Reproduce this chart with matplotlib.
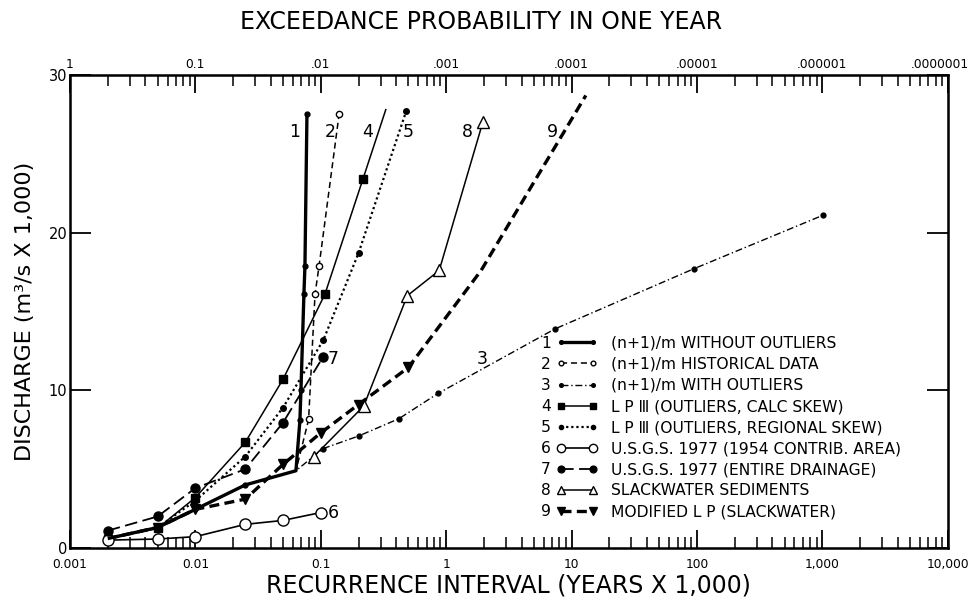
import numpy as np
import matplotlib
matplotlib.use("Agg")
import matplotlib.pyplot as plt
import matplotlib.transforms as mtransforms
from matplotlib.ticker import FixedLocator, LogLocator, NullFormatter

# recurrence interval (years x 1,000) and discharge (m3/s x 1,000)
t1 = [0.002, 0.005, 0.01, 0.025, 0.0634, 0.0682, 0.0695, 0.0734, 0.0748, 0.0776]
q1 = [0.6, 1.3, 2.45, 4.0, 4.9, 8.1, 10.0, 16.1, 17.9, 27.5]
t2 = [0.002, 0.005, 0.01, 0.025, 0.0634, 0.080, 0.090, 0.097, 0.14]
q2 = [0.6, 1.3, 2.45, 4.0, 4.9, 8.15, 16.1, 17.9, 27.5]
t3 = [0.002, 0.005, 0.01, 0.025, 0.0634, 0.104, 0.2, 0.42, 0.86, 7.4, 94, 1010]
q3 = [0.6, 1.3, 2.45, 4.0, 4.9, 6.3, 7.1, 8.2, 9.8, 13.9, 17.7, 21.1]
t4 = [0.002, 0.005, 0.01, 0.025, 0.05, 0.108, 0.217, 0.33]
q4 = [0.6, 1.25, 3.2, 6.7, 10.7, 16.1, 23.4, 27.8]
t5 = [0.002, 0.005, 0.01, 0.025, 0.05, 0.105, 0.2, 0.48]
q5 = [0.6, 1.3, 3.0, 5.8, 8.9, 13.2, 18.7, 27.7]
t6 = [0.002, 0.005, 0.01, 0.025, 0.05, 0.1]
q6 = [0.5, 0.57, 0.72, 1.5, 1.75, 2.25]
t7 = [0.002, 0.005, 0.01, 0.025, 0.05, 0.104]
q7 = [1.1, 2.0, 3.8, 5.0, 7.95, 12.1]
t8 = [0.088, 0.22, 0.49, 0.88, 1.96]
q8 = [5.8, 9.0, 16.0, 17.6, 27.0]
t9 = [0.002, 0.005, 0.01, 0.025, 0.05, 0.1, 0.2, 0.5, 1.9, 13.0]
q9 = [0.6, 1.3, 2.45, 3.1, 5.3, 7.3, 9.1, 11.45, 17.6, 28.7]

names = ["(n+1)/m WITHOUT OUTLIERS", "(n+1)/m HISTORICAL DATA",
         "(n+1)/m WITH OUTLIERS", "L P \u2162 (OUTLIERS, CALC SKEW)",
         "L P \u2162 (OUTLIERS, REGIONAL SKEW)", "U.S.G.S. 1977 (1954 CONTRIB. AREA)",
         "U.S.G.S. 1977 (ENTIRE DRAINAGE)", "SLACKWATER SEDIMENTS",
         "MODIFIED L P (SLACKWATER)"]

# curve number labels: (text, t, q)
curve_labels = [("1", 0.062, 26.4), ("2", 0.118, 26.4), ("4", 0.238, 26.4),
                ("5", 0.495, 26.4), ("8", 1.47, 26.4), ("9", 7.1, 26.4),
                ("3", 1.93, 12.0), ("7", 0.125, 12.0), ("6", 0.125, 2.25)]

bottom_ticks = [0.001, 0.01, 0.1, 1, 10, 100, 1000, 10000]
bottom_labels = ["0.001", "0.01", "0.1", "1", "10", "100", "1,000", "10,000"]
top_labels = ["1", "0.1", ".01", ".001", ".0001", ".00001", ".000001", ".0000001"]

plt.rcParams['font.family'] = ['DejaVu Sans']
fig = plt.figure(figsize=(9.72, 6.03), dpi=100)
ax = fig.add_axes([0.072, 0.0912, 0.903, 0.7845])

k = 'black'
h = []
h += ax.plot(t1, q1, color=k, lw=2.4, marker='o', ms=3.5, markevery=[0, 1, 2, 3, 5, 6, 7, 8, 9])
h += ax.plot(t2, q2, color=k, lw=1.1, ls=(0, (4, 2.5)), marker='o', ms=4.5, mfc='white',
             markevery=[5, 6, 7, 8])
h += ax.plot(t3, q3, color=k, lw=1.0, ls=(0, (5, 2, 1, 2)), marker='o', ms=3.5,
             markevery=[5, 6, 7, 8, 9, 10, 11])
h += ax.plot(t4, q4, color=k, lw=1.1, marker='s', ms=5.5, markevery=[0, 1, 2, 3, 4, 5, 6])
h += ax.plot(t5, q5, color=k, lw=1.6, ls=(0, (1, 1.3)), marker='o', ms=4)
h += ax.plot(t6, q6, color=k, lw=1.2, marker='o', ms=8, mfc='white')
h += ax.plot(t7, q7, color=k, lw=1.3, ls=(0, (7, 3)), marker='o', ms=6.5)
h += ax.plot(t8, q8, color=k, lw=1.1, marker='^', ms=8.5, mfc='white')
h += ax.plot(t9, q9, color=k, lw=2.4, ls=(0, (3, 1.6)), marker='v', ms=7,
             markevery=[1, 2, 3, 4, 5, 6, 7])

for s, tx, qy in curve_labels:
    ax.text(tx, qy, s, fontsize=12.5, ha='center', va='center')

ax.set_xscale('log')
ax.set_xlim(0.001, 10000)
ax.set_ylim(0, 30)

ax.xaxis.set_major_locator(FixedLocator(bottom_ticks))
ax.set_xticklabels(bottom_labels, fontsize=8.8)
ax.xaxis.set_minor_locator(LogLocator(base=10, subs=np.arange(2, 10), numticks=50))
ax.xaxis.set_minor_formatter(NullFormatter())
ax.set_yticks([0, 10, 20, 30])
ax.set_yticklabels(["0", "10", "20", "30"], fontsize=10.5)
ax.tick_params(axis='x', which='major', direction='in', length=13, width=1.3, pad=7)
ax.tick_params(axis='x', which='minor', direction='in', length=8, width=1.1)
ax.tick_params(axis='y', direction='in', length=15, width=1.3, right=True, pad=2)
for sp in ax.spines.values():
    sp.set_linewidth(1.8)

ax2 = ax.twiny()
ax2.set_xscale('log')
ax2.set_xlim(ax.get_xlim())
ax2.xaxis.set_major_locator(FixedLocator(bottom_ticks))
ax2.set_xticklabels(top_labels, fontsize=8.8)
ax2.xaxis.set_minor_locator(LogLocator(base=10, subs=np.arange(2, 10), numticks=50))
ax2.xaxis.set_minor_formatter(NullFormatter())
ax2.tick_params(axis='x', which='major', direction='in', length=13, width=1.3, pad=3)
ax2.tick_params(axis='x', which='minor', direction='in', length=8, width=1.1)
last = ax2.get_xticklabels()[-1]
last.set_transform(last.get_transform() +
                   mtransforms.ScaledTranslation(-6 / 72, 0, fig.dpi_scale_trans))

ax.set_xlabel("RECURRENCE INTERVAL (YEARS X 1,000)", fontsize=17, labelpad=2)
ax.set_ylabel("DISCHARGE (m\u00b3/s X 1,000)", fontsize=16, labelpad=10)
fig.text(481 / 972, 1 - 22 / 603, "EXCEEDANCE PROBABILITY IN ONE YEAR", fontsize=17,
         ha='center', va='center')

leg = ax.legend(h, names, loc='upper left', bbox_to_anchor=(0.545, 0.465), frameon=False,
                fontsize=11.2, handlelength=2.7, handletextpad=0.8, labelspacing=0.39,
                borderpad=0, numpoints=2, markerscale=0.75)
ax.add_artist(leg)
nums = [plt.Line2D([], [], lw=0) for _ in names]
ax.legend(nums, [str(i + 1) for i in range(len(names))], loc='upper right',
          bbox_to_anchor=(0.557, 0.465), frameon=False, fontsize=11.2, handlelength=0,
          handletextpad=0, labelspacing=0.39, borderpad=0)

fig.savefig("out.png", dpi=100)
